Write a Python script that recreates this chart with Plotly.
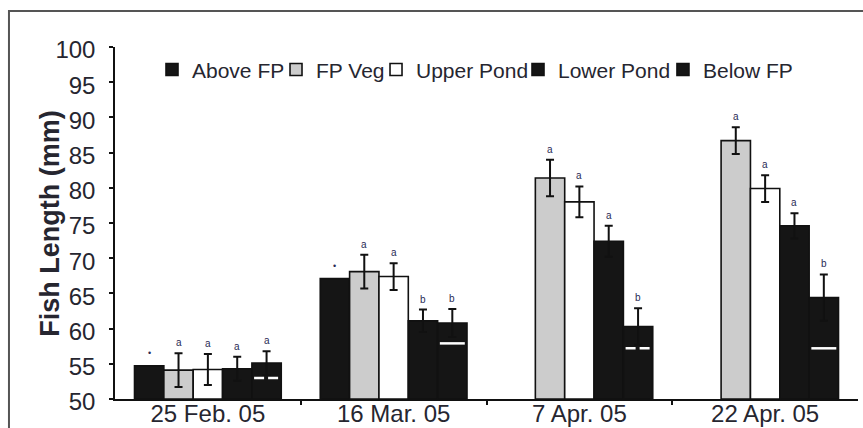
import plotly.graph_objects as go

# ---- data ----
dates = ["25 Feb. 05", "16 Mar. 05", "7 Apr. 05", "22 Apr. 05"]
series_names = ["Above FP", "FP Veg", "Upper Pond", "Lower Pond", "Below FP"]

above_fp = [54.7, 67.1, None, None]
fp_veg = [54.1, 68.1, 81.4, 86.7]
upper_pond = [54.2, 67.4, 78.0, 79.9]
lower_pond = [54.3, 61.1, 72.4, 74.6]
below_fp = [55.1, 60.8, 60.3, 64.4]

above_fp_err = [None, None, None, None]
fp_veg_err = [2.4, 2.4, 2.6, 1.9]
upper_pond_err = [2.2, 1.9, 2.2, 1.9]
lower_pond_err = [1.7, 1.6, 2.2, 1.8]
below_fp_err = [1.7, 2.0, 2.6, 3.3]

above_fp_sig = ["•", "•", "", ""]
fp_veg_sig = ["a", "a", "a", "a"]
upper_pond_sig = ["a", "a", "a", "a"]
lower_pond_sig = ["a", "b", "a", "a"]
below_fp_sig = ["a", "b", "b", "b"]

below_fp_ref = [53.0, 57.9, 57.2, 57.2]   # white reference marks inside Below FP bars

# ---- styles ----
fills = ["#151515", "#cccccc", "#ffffff", "#151515", "#151515"]
ref_dash = ["10px,4px", "solid", "10px,4px", "solid"]
legend_x = [0.0498, 0.2167, 0.3513, 0.5424, 0.7375]   # paper x of each legend entry
FONT = "Liberation Sans, Arial, sans-serif"
TXT = "#262630"

values = [above_fp, fp_veg, upper_pond, lower_pond, below_fp]
errors = [above_fp_err, fp_veg_err, upper_pond_err, lower_pond_err, below_fp_err]
sigs = [above_fp_sig, fp_veg_sig, upper_pond_sig, lower_pond_sig, below_fp_sig]

bargap = 0.21
nser = len(series_names)
w = (1 - bargap) / nser
cat_idx = list(range(len(dates)))


def xpos(s):
    return [i + (s - (nser - 1) / 2) * w for i in cat_idx]


def legend_key(s):
    return "legend" if s == 0 else f"legend{s + 1}"


fig = go.Figure()

# bars
for s, name in enumerate(series_names):
    fig.add_trace(go.Bar(
        x=xpos(s), y=[v - 50 if v is not None else None for v in values[s]],
        base=50, width=w, name=name,
        marker=dict(color=fills[s], line=dict(color="#111111", width=1.6)),
        showlegend=True, legend=legend_key(s),
    ))

# white reference marks in Below FP bars
xb = xpos(nser - 1)
for i in cat_idx:
    half = 0.85 * w / 2
    fig.add_trace(go.Scatter(
        x=[xb[i] - half, xb[i] + half], y=[below_fp_ref[i], below_fp_ref[i]],
        mode="lines", line=dict(color="white", width=2.5, dash=ref_dash[i]),
        showlegend=False, hoverinfo="skip",
    ))

# error bars
for s in range(nser):
    xs, ys, es = [], [], []
    for i in cat_idx:
        if values[s][i] is not None and errors[s][i] is not None:
            xs.append(xpos(s)[i]); ys.append(values[s][i]); es.append(errors[s][i])
    if xs:
        fig.add_trace(go.Scatter(
            x=xs, y=ys, mode="markers",
            marker=dict(size=1, color="rgba(0,0,0,0)"),
            error_y=dict(type="data", array=es, color="#111111", thickness=2, width=4),
            showlegend=False, hoverinfo="skip",
        ))

# significance letters
for s in range(nser):
    for i in cat_idx:
        v = values[s][i]
        if v is None or not sigs[s][i]:
            continue
        e = errors[s][i] or 0
        small = sigs[s][i] == "•"
        fig.add_annotation(
            x=xpos(s)[i], y=v + e, text=sigs[s][i], showarrow=False,
            yanchor="bottom", yshift=6 if small else 3,
            font=dict(family=FONT, size=9 if small else 10, color="#2a2a55"),
        )

# y-axis title
fig.add_annotation(
    xref="paper", yref="paper", x=-0.088, y=0.497, text="<b>Fish Length (mm)</b>",
    textangle=-90, showarrow=False, xanchor="center", yanchor="middle",
    font=dict(family=FONT, size=27, color=TXT),
)

# outer frame (partially cropped in the reference)
fig.add_shape(type="rect", xref="paper", yref="paper",
              x0=-0.1427, x1=1.2, y0=-0.3, y1=1.102,
              line=dict(color="#555555", width=2), fillcolor="rgba(0,0,0,0)")

legend_common = dict(orientation="h", y=0.935, xanchor="left", yanchor="middle",
                     font=dict(family=FONT, size=21, color=TXT),
                     bgcolor="rgba(0,0,0,0)", itemclick=False, itemwidth=30)
layout_legends = {legend_key(s): dict(x=legend_x[s], **legend_common) for s in range(nser)}

fig.update_layout(
    width=863, height=428,
    margin=dict(l=115, r=5, t=47, b=29, autoexpand=False),
    paper_bgcolor="white", plot_bgcolor="white",
    barmode="overlay",
    font=dict(family=FONT, color=TXT),
    showlegend=True,
    xaxis=dict(
        range=[-0.5, len(dates) - 0.5], tickmode="array", tickvals=cat_idx, ticktext=dates,
        ticks="", showgrid=False, zeroline=False, automargin=False,
        showline=True, linecolor="#111111", linewidth=1.5,
        tickfont=dict(family=FONT, size=24, color=TXT), ticklabelstandoff=-8,
        minor=dict(tickmode="array", tickvals=[i + 0.5 for i in cat_idx[:-1]],
                   ticks="outside", ticklen=4, tickwidth=1.5, tickcolor="#111111", showgrid=False),
    ),
    yaxis=dict(
        range=[50, 100], tickmode="linear", tick0=50, dtick=5,
        ticks="outside", ticklen=4, tickwidth=1.5, tickcolor="#111111",
        showgrid=False, zeroline=False, automargin=False,
        showline=True, linecolor="#111111", linewidth=1.5,
        tickfont=dict(family=FONT, size=24, color=TXT), ticklabelstandoff=9,
        ticklabelshift=3,
    ),
    **layout_legends,
)

fig.write_html("out.html")
